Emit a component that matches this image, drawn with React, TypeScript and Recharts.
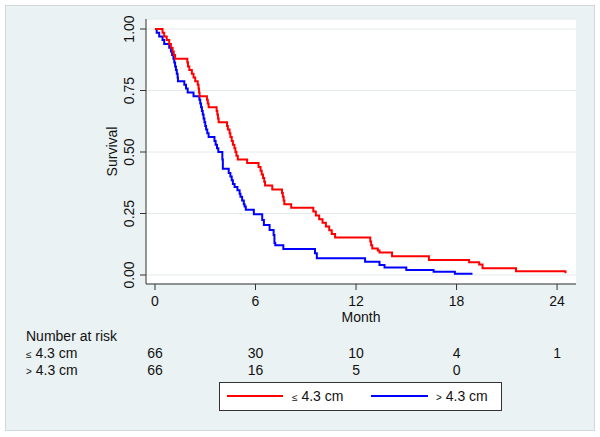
import React from 'react';
import { LineChart, Line, XAxis, YAxis, CartesianGrid, Legend, Label } from 'recharts';

// ---- data (months, survival) ----
const redTimes = [0, 0.45, 0.55, 0.7, 0.85, 0.95, 1.05, 1.12, 1.2, 1.93, 1.97, 2.05, 2.2, 2.3, 2.4, 2.55, 2.6, 2.63, 2.66, 3.1, 3.15, 3.2, 3.68, 3.72, 3.76, 3.8, 4.3, 4.35, 4.45, 4.5, 4.58, 4.65, 4.74, 4.8, 4.86, 4.94, 5.5, 6.18, 6.3, 6.37, 6.45, 6.52, 6.57, 7.0, 7.58, 7.63, 7.68, 7.72, 8.13, 9.45, 9.6, 9.8, 10.0, 10.2, 10.4, 10.55, 10.75, 12.85, 12.9, 12.97, 13.3, 13.4, 14.15, 16.35, 18.75, 19.35, 19.55, 21.55, 24.5];
const redSurv = [1.0, 0.985, 0.97, 0.955, 0.939, 0.924, 0.909, 0.894, 0.879, 0.864, 0.848, 0.833, 0.818, 0.803, 0.788, 0.773, 0.758, 0.742, 0.727, 0.712, 0.697, 0.682, 0.667, 0.652, 0.636, 0.621, 0.606, 0.591, 0.576, 0.561, 0.545, 0.53, 0.515, 0.5, 0.485, 0.47, 0.455, 0.439, 0.424, 0.409, 0.394, 0.379, 0.364, 0.348, 0.333, 0.318, 0.303, 0.288, 0.273, 0.258, 0.242, 0.227, 0.212, 0.197, 0.182, 0.167, 0.152, 0.136, 0.121, 0.108, 0.1, 0.091, 0.076, 0.061, 0.052, 0.043, 0.027, 0.015, 0.007];

const blueTimes = [0, 0.1, 0.25, 0.45, 0.55, 0.85, 0.95, 1.02, 1.1, 1.15, 1.2, 1.25, 1.3, 1.35, 1.37, 1.75, 1.85, 1.95, 2.3, 2.65, 2.7, 2.75, 2.8, 2.85, 2.9, 2.95, 3.0, 3.05, 3.12, 3.2, 3.55, 3.62, 3.7, 3.78, 4.02, 4.05, 4.4, 4.5, 4.58, 4.65, 4.75, 4.92, 5.05, 5.1, 5.2, 5.3, 5.35, 5.42, 5.9, 6.4, 6.5, 6.84, 7.08, 7.13, 7.18, 7.66, 9.55, 9.66, 12.54, 13.4, 13.7, 15.0, 16.63, 17.9, 18.95];
const blueSurv = [1.0, 0.985, 0.97, 0.955, 0.939, 0.924, 0.909, 0.894, 0.879, 0.864, 0.848, 0.833, 0.818, 0.803, 0.788, 0.773, 0.758, 0.742, 0.727, 0.712, 0.697, 0.682, 0.667, 0.652, 0.636, 0.621, 0.606, 0.591, 0.576, 0.561, 0.545, 0.53, 0.515, 0.5, 0.47, 0.432, 0.415, 0.4, 0.385, 0.37, 0.358, 0.345, 0.33, 0.318, 0.303, 0.288, 0.278, 0.265, 0.247, 0.224, 0.203, 0.183, 0.163, 0.13, 0.121, 0.106, 0.088, 0.068, 0.054, 0.041, 0.03, 0.02, 0.0135, 0.005, 0.005];

const groupNames = ['≤ 4.3 cm', '> 4.3 cm'];
const groupSymbols = ['≤', '>'];
const groupColors = ['#ff0000', '#0000ff'];

const xTicks = [0, 6, 12, 18, 24];
const yTicks = [0, 0.25, 0.5, 0.75, 1];
const riskTimesSmall = [0, 6, 12, 18, 24];
const riskSmall = [66, 30, 10, 4, 1];
const riskTimesLarge = [0, 6, 12, 18];
const riskLarge = [66, 16, 5, 0];

const redData = redTimes.map((t, i) => ({ t, s: redSurv[i] }));
const blueData = blueTimes.map((t, i) => ({ t, s: blueSurv[i] }));

const FONT = '"Liberation Sans", Arial, Helvetica, sans-serif';
const X_DOMAIN: [number, number] = [-0.537, 25.13];
const Y_DOMAIN: [number, number] = [-0.0366, 1.0407];

const YTick = (props: any) => {
  const { x, y, payload } = props;
  return (
    <text
      transform={`translate(${x},${y}) rotate(-90)`}
      textAnchor="middle"
      fontSize={14}
      fill="#111"
      fontFamily={FONT}
    >
      {Number(payload.value).toFixed(2)}
    </text>
  );
};

const GroupLabel = ({ idx, x, y }: { idx: number; x: number; y: number }) => (
  <text x={x} y={y} fontSize={14} fill="#111" fontFamily={FONT}>
    <tspan fontSize={10}>{groupSymbols[idx]}</tspan>
    <tspan>{groupNames[idx].slice(1)}</tspan>
  </text>
);

const LegendBox = (props: any) => {
  const payload: any[] = props.payload || [];
  const positions = [
    { lx1: 7, lx2: 63, tx: 72 },
    { lx1: 151, lx2: 208, tx: 216 },
  ];
  return (
    <div
      style={{
        width: 283,
        height: 29,
        boxSizing: 'border-box',
        border: '1px solid #333',
        background: '#fff',
      }}
    >
      <svg width={281} height={27} style={{ display: 'block' }}>
        {groupNames.map((name, i) => {
          const entry = payload.find((p: any) => p.value === name);
          const color = entry ? entry.color : groupColors[i];
          return (
            <g key={i}>
              <line x1={positions[i].lx1} x2={positions[i].lx2} y1={13} y2={13} stroke={color} strokeWidth={2} />
              <GroupLabel idx={i} x={positions[i].tx} y={18} />
            </g>
          );
        })}
      </svg>
    </div>
  );
};

export default function App() {
  return (
    <div style={{ position: 'absolute', left: 0, top: 0, width: 600, height: 437, background: '#fff', fontFamily: FONT }}>
      <div
        style={{
          position: 'absolute',
          left: 5,
          top: 5,
          width: 590,
          height: 426,
          boxSizing: 'border-box',
          background: '#eaf2f3',
          border: '1px solid #cfd8da',
        }}
      />
      <div style={{ position: 'absolute', left: 0, top: 0 }}>
        <LineChart width={600} height={437} margin={{ top: 19, right: 24, bottom: 58, left: 86 }}>
          <CartesianGrid vertical={false} stroke="#e2eaec" fill="#ffffff" fillOpacity={1} />
          <XAxis
            dataKey="t"
            type="number"
            domain={X_DOMAIN}
            allowDataOverflow
            ticks={xTicks}
            interval={0}
            height={42}
            tickSize={6}
            tickMargin={6}
            stroke="#333"
            tick={{ fill: '#111', fontSize: 14, fontFamily: FONT }}
          >
            <Label value="Month" position="insideBottom" offset={4} fill="#111" fontSize={14} fontFamily={FONT} />
          </XAxis>
          <XAxis
            xAxisId="r1"
            dataKey="t"
            type="number"
            domain={X_DOMAIN}
            allowDataOverflow
            ticks={riskTimesSmall}
            interval={0}
            height={33}
            tickSize={0}
            tickMargin={22}
            axisLine={false}
            tickLine={false}
            tickFormatter={(v: number) => String(riskSmall[riskTimesSmall.indexOf(v)])}
            tick={{ fill: '#111', fontSize: 14, fontFamily: FONT }}
          />
          <XAxis
            xAxisId="r2"
            dataKey="t"
            type="number"
            domain={X_DOMAIN}
            allowDataOverflow
            ticks={riskTimesLarge}
            interval={0}
            height={20}
            tickSize={0}
            tickMargin={6}
            axisLine={false}
            tickLine={false}
            tickFormatter={(v: number) => String(riskLarge[riskTimesLarge.indexOf(v)])}
            tick={{ fill: '#111', fontSize: 14, fontFamily: FONT }}
          />
          <YAxis
            type="number"
            domain={Y_DOMAIN}
            allowDataOverflow
            ticks={yTicks}
            interval={0}
            width={60}
            tickSize={6}
            tickMargin={6}
            stroke="#333"
            tick={<YTick />}
          >
            <Label
              content={(p: any) => {
                const vb = p.viewBox || { x: 86, y: 19, height: 265 };
                return (
                  <text
                    transform={`translate(${vb.x + 26},${vb.y + vb.height / 2}) rotate(-90)`}
                    textAnchor="middle"
                    dy="0.35em"
                    fontSize={14}
                    fill="#111"
                    fontFamily={FONT}
                  >
                    Survival
                  </text>
                );
              }}
            />
          </YAxis>
          <Line
            data={blueData}
            dataKey="s"
            type="stepAfter"
            stroke={groupColors[1]}
            strokeWidth={2}
            dot={false}
            activeDot={false}
            name={groupNames[1]}
            isAnimationActive={false}
          />
          <Line
            data={redData}
            dataKey="s"
            type="stepAfter"
            stroke={groupColors[0]}
            strokeWidth={2}
            dot={false}
            activeDot={false}
            name={groupNames[0]}
            isAnimationActive={false}
          />
          <Legend
            layout="horizontal"
            verticalAlign="middle"
            align="center"
            wrapperStyle={{ position: 'absolute', left: 219, top: 382, width: 283, height: 29 }}
            content={<LegendBox />}
          />
        </LineChart>
      </div>
      <svg width={600} height={437} style={{ position: 'absolute', left: 0, top: 0, pointerEvents: 'none' }}>
        <text x={26} y={341} fontSize={14} fill="#111" fontFamily={FONT}>Number at risk</text>
        <GroupLabel idx={0} x={26} y={358} />
        <GroupLabel idx={1} x={26} y={374.5} />
      </svg>
    </div>
  );
}
